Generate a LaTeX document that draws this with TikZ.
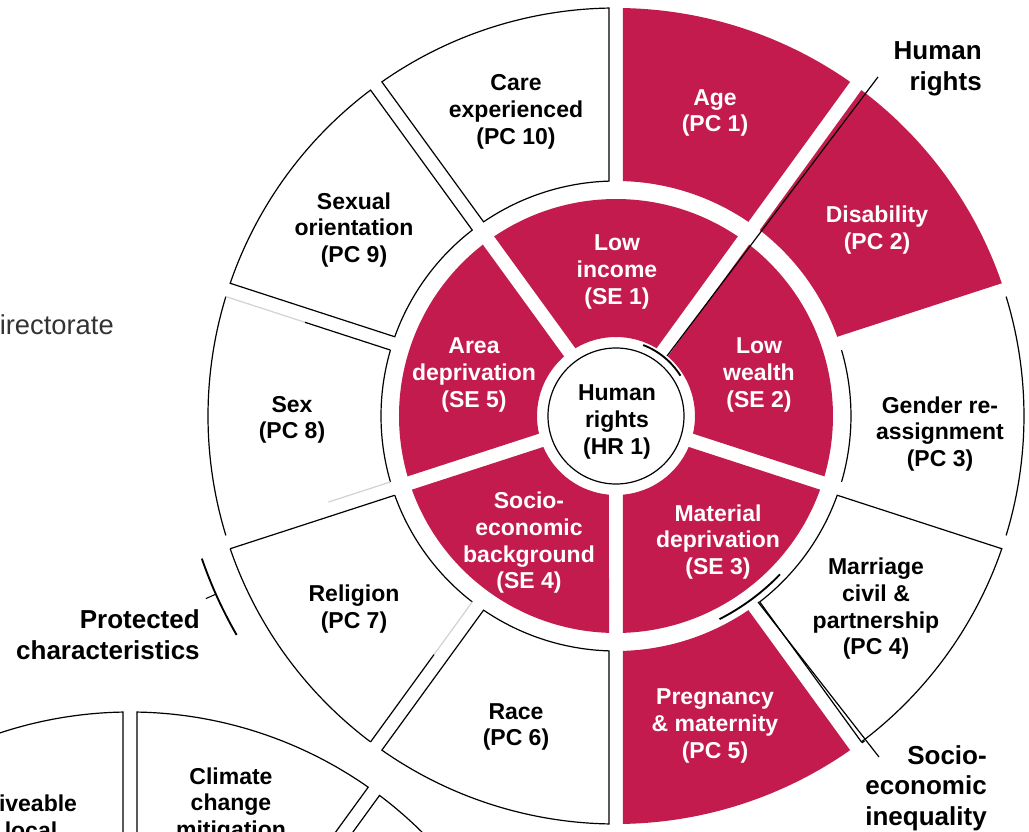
\documentclass[tikz,border=0pt]{standalone}
\usepackage{fontspec}
\setmainfont{Liberation Sans}
\usetikzlibrary{calc}
\definecolor{crim}{RGB}{196,27,78}
\definecolor{dirgray}{RGB}{51,51,51}
\newcommand\sectorpath[5]{%
  \path[#5] ({#1+asin(7/#3)}:#3) -- ({#1+asin(7/#4)}:#4)
    arc[start angle={#1+asin(7/#4)}, end angle={#2-asin(7/#4)}, radius=#4]
    -- ({#2-asin(7/#3)}:#3)
    arc[start angle={#2-asin(7/#3)}, end angle={#1+asin(7/#3)}, radius=#3] -- cycle;}
\newcommand\ringarc[4]{%
  \draw[#4] ({#1+asin(7/#3)}:#3) arc[start angle={#1+asin(7/#3)}, end angle={#2-asin(7/#3)}, radius=#3];}
\newcommand\sideedge[5]{%
  \draw[#5] ($({#1}:#3)+({#1+90}:#2)$) -- ($({#1}:#4)+({#1+90}:#2)$);}
\begin{document}
\begin{tikzpicture}[x=0.75pt,y=0.75pt,
  lbl/.style={font=\bfseries\fontsize{17.25}{20}\selectfont, align=center, inner sep=0pt},
  wlbl/.style={lbl, text=white},
  big/.style={font=\bfseries\fontsize{19.5}{23}\selectfont, align=right, inner sep=0pt},
  seg/.style={draw=black, line width=0.9pt, fill=white},
  cseg/.style={fill=crim},
  outl/.style={line width=0.9pt},
  faint/.style={line width=0.9pt, draw=gray!35},
  brk/.style={line width=1.4pt}]
\useasboundingbox (-616,-416) rectangle (413,416);
\fill[white] (-616,-416) rectangle (413,416);

% second wheel (partly visible)
\begin{scope}
\clip (-616,-416) rectangle (413,416);
\begin{scope}[shift={(-486,-711)}]
  \sectorpath{90}{126}{235}{415}{seg}
  \sectorpath{54}{90}{235}{415}{seg}
  \sectorpath{18}{54}{235}{415}{seg}
  \node[lbl] (liv) at (-99,310) {\hphantom{L}iveable\\local};
  \node[lbl] (cli) at (101,322) {Climate\\change\\mitigation};
\end{scope}
\end{scope}

\node[font=\fontsize{20.5}{24}\selectfont, text=dirgray, anchor=base east, inner sep=0pt] (dir) at (-502,81) {irectorate};

% outer ring
\sectorpath{54}{90}{235}{408}{cseg}
\sectorpath{18}{54}{235}{408}{cseg}
\sectorpath{-18}{18}{235}{408}{fill=white}
\ringarc{-18}{18}{408}{outl}
\ringarc{-18}{18}{235}{outl}
\sectorpath{-54}{-18}{235}{408}{seg}
\sectorpath{-90}{-54}{235}{408}{cseg}
\sectorpath{-126}{-90}{235}{408}{seg}
\sectorpath{-162}{-126}{235}{408}{fill=white}
\ringarc{-162}{-126}{408}{outl}
\ringarc{-162}{-126}{235}{outl}
\sideedge{-162}{7}{235}{408}{outl}
\sideedge{-126}{-7}{235}{300}{faint}
\sideedge{-126}{-7}{300}{408}{outl}
\sectorpath{162}{198}{235}{408}{fill=white}
\ringarc{162}{198}{408}{outl}
\ringarc{162}{198}{235}{outl}
\sideedge{162}{7}{235}{325}{outl}
\sideedge{162}{7}{325}{408}{faint}
\sideedge{198}{-7}{235}{300}{faint}
\sectorpath{126}{162}{235}{408}{seg}
\sectorpath{90}{126}{235}{408}{seg}

% inner ring
\sectorpath{54}{126}{79}{217}{cseg}
\sectorpath{126}{198}{79}{217}{cseg}
\sectorpath{198}{270}{79}{217}{cseg}
\sectorpath{-90}{-18}{79}{217}{cseg}
\sectorpath{-18}{54}{79}{217}{cseg}

% centre
\node[circle, draw=black, line width=0.9pt, fill=white, minimum size=102pt, inner sep=0pt] (hr) at (0,0) {};
\node[lbl] (hrt) at (1,-6) {Human\\rights\\(HR 1)};

% brackets
\draw[brk] (32:76) arc[start angle=32, end angle=69, radius=76];
\draw[brk] (-63:228) arc[start angle=-63, end angle=-44, radius=228];
\draw[brk] (199:438) arc[start angle=199, end angle=210, radius=438];
\coordinate (pt1) at (204:438);
\coordinate (pt2) at (204:449);
\draw[line width=0.8pt] (pt1) -- (pt2);
\coordinate (h1) at (51,60);
\coordinate (h2) at (262,339);
\draw[line width=0.9pt] (h1) -- (h2);
\coordinate (s1) at (142,-186);
\coordinate (s2) at (263,-341);
\coordinate (s3) at ($(-54:409)+(36:7)$);
\coordinate (s4) at ($(-54:409)+(36:10)$);
\draw[line width=0.9pt] (s1) -- (s2);
\draw[line width=0.9pt] (s3) -- (s4);

% segment labels
\node[wlbl] (pc1) at (99,303) {Age\\(PC 1)};
\node[wlbl] (pc2) at (261,186) {Disability\\(PC 2)};
\node[lbl] (pc3) at (324,-18) {Gender re-\\assignment\\(PC 3)};
\node[lbl] (pc4) at (260,-193) {Marriage\\civil \&\\partnership\\(PC 4)};
\node[wlbl] (pc5) at (99,-310) {Pregnancy\\\& maternity\\(PC 5)};
\node[lbl] (pc6) at (-100,-311) {Race\\(PC 6)};
\node[lbl] (pc7) at (-262,-193) {Religion\\(PC 7)};
\node[lbl] (pc8) at (-324,-4) {Sex\\(PC 8)};
\node[lbl] (pc9) at (-262,186) {Sexual\\orientation\\(PC 9)};
\node[lbl] (pc10) at (-100,304) {Care\\experienced\\(PC 10)};
\node[wlbl] (se1) at (1,144) {Low\\income\\(SE 1)};
\node[wlbl] (se2) at (143,41) {Low\\wealth\\(SE 2)};
\node[wlbl] (se3) at (102,-126) {Material\\deprivation\\(SE 3)};
\node[wlbl] (se4) at (-87,-127) {Socio-\\economic\\background\\(SE 4)};
\node[wlbl] (se5) at (-142,41) {Area\\deprivation\\(SE 5)};

% group labels
\node[big, anchor=east] (lhr) at (366,347) {Human\\rights};
\node[big, anchor=east] (lse) at (371,-372) {Socio-\\economic\\inequality};
\node[big, anchor=east] (lpc) at (-416,-219) {Protected\\characteristics};
\end{tikzpicture}
\end{document}
